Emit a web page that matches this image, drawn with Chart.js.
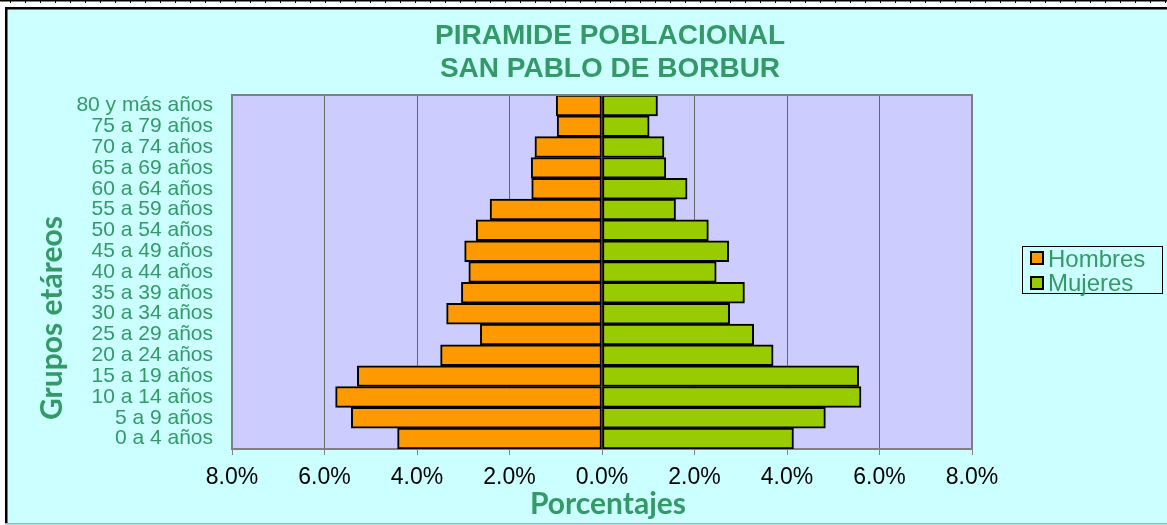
<!DOCTYPE html>
<html>
<head>
<meta charset="utf-8">
<script src="https://cdn.jsdelivr.net/npm/chart.js@4.4.1/dist/chart.umd.min.js"></script>
<style>
  html, body { margin: 0; padding: 0; background: #ffffff; }
  #wrap { width: 1167px; height: 525px; }
</style>
</head>
<body>
<div id="wrap"><canvas id="c" width="1167" height="525"></canvas></div>
<script>
// ---- data (bottom to top) ----
const grupos = ["0 a 4 años","5 a 9 años","10 a 14 años","15 a 19 años","20 a 24 años","25 a 29 años","30 a 34 años","35 a 39 años","40 a 44 años","45 a 49 años","50 a 54 años","55 a 59 años","60 a 64 años","65 a 69 años","70 a 74 años","75 a 79 años","80 y más años"];
const hombres = [4.42, 5.42, 5.76, 5.29, 3.49, 2.63, 3.36, 3.04, 2.88, 2.97, 2.72, 2.42, 1.52, 1.53, 1.45, 0.97, 0.99];
const mujeres = [4.14, 4.83, 5.60, 5.55, 3.70, 3.28, 2.76, 3.08, 2.47, 2.74, 2.30, 1.59, 1.84, 1.38, 1.34, 1.02, 1.20];
const xTicks = [-8, -6, -4, -2, 0, 2, 4, 6, 8];
const titleLines = ["PIRAMIDE POBLACIONAL", "SAN PABLO DE BORBUR"];
const yTitle = "Grupos etáreos";
const xTitle = "Porcentajes";
const seriesNames = ["Hombres", "Mujeres"];
const seriesColors = ["#FF9900", "#99CC00"];

const GREEN_TEXT = "#339966";

const decor = {
  id: 'decor',
  beforeDraw(chart) {
    const ctx = chart.ctx;
    const W = chart.width, H = chart.height;
    ctx.save();
    ctx.fillStyle = '#ffffff';
    ctx.fillRect(0, 0, W, H);
    ctx.fillStyle = '#000';
    ctx.fillRect(0, 0, W, 1.5);
    for (let x = 10; x < W; x += 15) ctx.fillRect(x, 0, 1, 3);
    ctx.fillStyle = '#CCFFFF';
    ctx.fillRect(5, 7, W - 5, H - 9);
    ctx.fillStyle = '#000';
    ctx.fillRect(5, 7, W - 5, 2.5);
    ctx.fillRect(5, 7, 2.5, H - 9);
    ctx.fillStyle = '#88BBBB';
    ctx.fillRect(5, H - 2, W - 5, 1.5);
    const a = chart.chartArea;
    ctx.fillStyle = '#CCCCFF';
    ctx.fillRect(a.left, a.top, a.right - a.left, a.bottom - a.top);
    ctx.restore();
  },
  afterDraw(chart) {
    const ctx = chart.ctx;
    const a = chart.chartArea;
    ctx.save();
    ctx.strokeStyle = '#808080';
    ctx.lineWidth = 2;
    ctx.beginPath();
    ctx.moveTo(a.left, a.top);
    ctx.lineTo(a.right, a.top);
    ctx.lineTo(a.right, a.bottom);
    ctx.stroke();
    ctx.fillStyle = GREEN_TEXT;
    ctx.font = 'bold 28px "Liberation Sans", Arial, sans-serif';
    ctx.textAlign = 'center';
    ctx.textBaseline = 'alphabetic';
    ctx.fillText(titleLines[0], 610, 44);
    ctx.fillText(titleLines[1], 610, 77);
    ctx.font = 'bold 30px Lato, "Open Sans", sans-serif';
    ctx.fillText(xTitle, 608, 514);
    ctx.save();
    ctx.translate(62, 318);
    ctx.rotate(-Math.PI / 2);
    ctx.fillText(yTitle, 0, 0);
    ctx.restore();
    ctx.strokeStyle = '#000';
    ctx.lineWidth = 1;
    ctx.strokeRect(1022.5, 246.5, 140, 47);
    ctx.font = '24px "Liberation Sans", Arial, sans-serif';
    ctx.textAlign = 'left';
    const ys = [252, 277];
    const bases = [267, 291];
    for (let i = 0; i < 2; i++) {
      ctx.fillStyle = seriesColors[i];
      ctx.fillRect(1031, ys[i], 12, 12);
      ctx.lineWidth = 2;
      ctx.strokeStyle = '#000';
      ctx.strokeRect(1031, ys[i], 12, 12);
      ctx.fillStyle = GREEN_TEXT;
      ctx.fillText(seriesNames[i], 1048, bases[i]);
    }
    ctx.restore();
  }
};

new Chart(document.getElementById('c'), {
  type: 'bar',
  data: {
    labels: grupos,
    datasets: [
      { label: seriesNames[0], data: hombres.map(v => -v), backgroundColor: seriesColors[0], borderColor: '#000', borderWidth: 2, borderSkipped: false, barPercentage: 1, categoryPercentage: 1 },
      { label: seriesNames[1], data: mujeres, backgroundColor: seriesColors[1], borderColor: '#000', borderWidth: 2, borderSkipped: false, barPercentage: 1, categoryPercentage: 1 }
    ]
  },
  options: {
    indexAxis: 'y',
    responsive: false,
    animation: false,
    layout: { padding: { left: 0, top: 95, right: 195, bottom: 0 } },
    plugins: { legend: { display: false }, tooltip: { enabled: false }, title: { display: false } },
    scales: {
      x: {
        stacked: true,
        min: -8, max: 8,
        afterBuildTicks(scale) { scale.ticks = xTicks.map(v => ({ value: v })); },
        afterFit(scale) { scale.height = 76; },
        ticks: {
          color: '#000',
          font: { family: '"Liberation Sans", Arial, sans-serif', size: 23 },
          padding: 9,
          maxRotation: 0,
          callback: v => Math.abs(v).toFixed(1) + '%'
        },
        grid: { color: '#666666', lineWidth: 1, drawTicks: true, tickLength: 6, tickColor: '#808080' },
        border: { display: true, color: '#808080', width: 2 }
      },
      y: {
        stacked: true,
        reverse: true,
        afterFit(scale) { scale.width = 232; },
        ticks: {
          color: GREEN_TEXT,
          font: { family: '"Liberation Sans", Arial, sans-serif', size: 21 },
          padding: 11,
          autoSkip: false
        },
        grid: { display: false },
        border: { display: true, color: '#808080', width: 2 }
      }
    }
  },
  plugins: [decor]
});
</script>
</body>
</html>
